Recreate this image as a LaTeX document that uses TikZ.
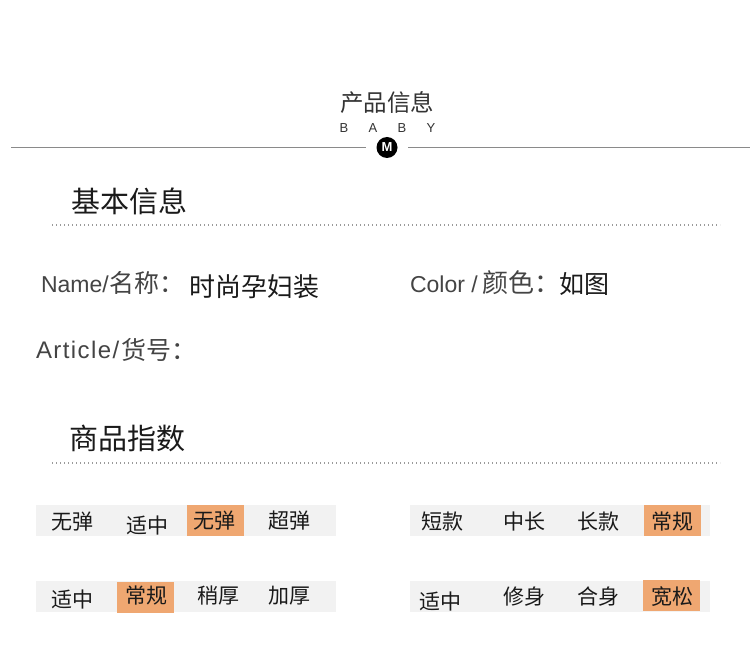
\documentclass[tikz,border=0pt]{standalone}
\usepackage{fontspec}
\setmainfont{Liberation Sans}
\newfontfamily\cjk{Noto Sans CJK SC}
\newfontfamily\lat{Liberation Sans}
\newfontfamily\latsp[LetterSpace=6]{Liberation Sans}
\definecolor{bandgray}{HTML}{F2F2F2}
\definecolor{bandorange}{HTML}{EFA771}
\definecolor{rulegray}{HTML}{8A8A8A}
\definecolor{dotgray}{HTML}{9A9A9A}
\definecolor{txtdark}{HTML}{1A1A1A}
\definecolor{txtmid}{HTML}{444444}
\definecolor{txttitle}{HTML}{333333}
\begin{document}
\begin{tikzpicture}[x=1pt,y=-1pt,
  txt/.style={inner sep=0pt, outer sep=0pt, anchor=base west},
  cjkfont/.style={font=\cjk\fontsize{#1}{#1}\selectfont},
  latfont/.style={font=\lat\fontsize{#1}{#1}\selectfont},
  titletext/.style={inner sep=0pt, anchor=base, text=txttitle, cjkfont=23.5},
  babyletter/.style={inner sep=0pt, anchor=base, text=txttitle, latfont=13},
  logo/.style={circle, fill=black, minimum size=21pt, inner sep=0pt, text=white,
    font=\lat\bfseries\fontsize{13}{13}\selectfont},
  rule/.style={draw=rulegray, line width=1.6pt},
  dotrule/.style={draw=dotgray, line width=1.1pt, dash pattern=on 1.1pt off 2.9pt},
  headtext/.style={txt, text=txtdark, cjkfont=29},
  infolat/.style={txt, text=txtmid, latfont=#1},
  infocjk/.style={txt, text=txtmid, cjkfont=#1},
  infoval/.style={txt, text=txtdark, cjkfont=#1},
  band/.style={fill=bandgray, draw=none, minimum width=300pt, minimum height=31pt, inner sep=0pt},
  pick/.style={fill=bandorange, draw=none, minimum width=57pt, minimum height=31pt, inner sep=0pt},
  bandlabel/.style={inner sep=0pt, anchor=base, text=txtdark, cjkfont=21}
]
\useasboundingbox (0,0) rectangle (750,647);
\fill[white] (0,0) rectangle (750,647);

% header
\node[titletext] (title) at (387,112) {产品信息};
\node[babyletter] (lb1) at (344,132.5) {B};
\node[babyletter] (la) at (373,132.5) {A};
\node[babyletter] (lb2) at (402,132.5) {B};
\node[babyletter] (ly) at (431,132.5) {Y};
\node[logo] (logo) at (387,147.5) {M};
\coordinate (ruleL) at (11,147.5);
\coordinate (ruleR) at (750,147.5);
\draw[rule, shorten >=10pt] (ruleL) -- (logo);
\draw[rule, shorten >=10pt] (ruleR) -- (logo);

% section 1
\node[headtext] (head1) at (71,213) {基本信息};
\coordinate (dot1L) at (52,225);
\coordinate (dot1R) at (720,225);
\draw[dotrule] (dot1L) -- (dot1R);

\node[infolat=23] (nameL) at (41,292) {Name/};
\node[infocjk=25] (nameC) at (109,292) {名称：};
\node[infoval=26] (nameV) at (189,296) {时尚孕妇装};

\node[infolat=23] (colorL) at (410,292) {Color /};
\node[infocjk=26] (colorC) at (482,292) {颜色：};
\node[infoval=25] (colorV) at (559,294) {如图};

\node[txt, text=txtmid, font=\latsp\fontsize{24}{24}\selectfont] (artL) at (36,358) {Article/};
\node[infocjk=25] (artC) at (121,359) {货号：};

% section 2
\node[headtext] (head2) at (69,449) {商品指数};
\coordinate (dot2L) at (52,463);
\coordinate (dot2R) at (720,463);
\draw[dotrule] (dot2L) -- (dot2R);

% bands
\node[band] (bandA) at (186,520.5) {};
\node[band] (bandB) at (186,596.5) {};
\node[band] (bandC) at (560,520.5) {};
\node[band] (bandD) at (560,596.5) {};
\node[pick] (pickA) at (215,520.5) {};
\node[pick] (pickB) at (145.5,597.5) {};
\node[pick] (pickC) at (672.5,520.5) {};
\node[pick] (pickD) at (671.5,595) {};

% band labels row 1 left
\node[bandlabel] (a1) at (72.5,529.5) {无弹};
\node[bandlabel] (a2) at (147,533.5) {适中};
\node[bandlabel] (a3) at (214,528.5) {无弹};
\node[bandlabel] (a4) at (289,528.5) {超弹};
% row 2 left
\node[bandlabel] (b1) at (72,607.5) {适中};
\node[bandlabel] (b2) at (146,603.5) {常规};
\node[bandlabel] (b3) at (218,603.5) {稍厚};
\node[bandlabel] (b4) at (289,603.5) {加厚};
% row 1 right
\node[bandlabel] (c1) at (442,529) {短款};
\node[bandlabel] (c2) at (524,529) {中长};
\node[bandlabel] (c3) at (598,529) {长款};
\node[bandlabel] (c4) at (672,529) {常规};
% row 2 right
\node[bandlabel] (d1) at (440,609.5) {适中};
\node[bandlabel] (d2) at (524,604.5) {修身};
\node[bandlabel] (d3) at (598,604.5) {合身};
\node[bandlabel] (d4) at (672,604.5) {宽松};
\end{tikzpicture}
\end{document}
